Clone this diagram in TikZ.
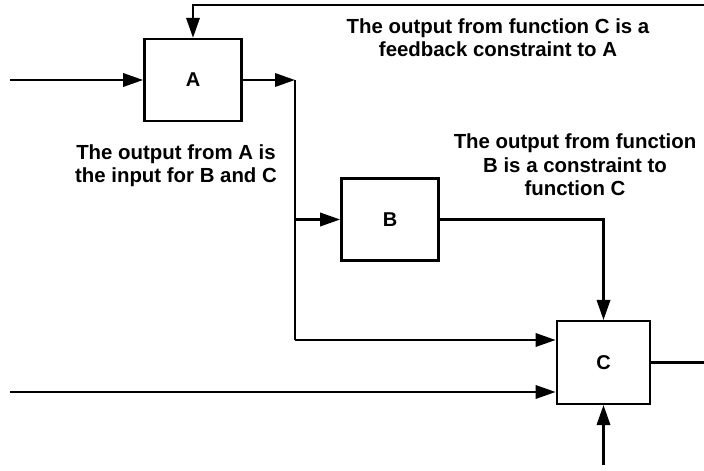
\documentclass[tikz,border=0pt]{standalone}
\usepackage{fontspec}
\setmainfont{Liberation Sans}
\usetikzlibrary{arrows.meta}

\begin{document}
\begin{tikzpicture}[x=0.75pt,y=-0.75pt,
  fbox/.style={draw,line width=1.8pt,minimum width=73pt,minimum height=61.5pt,font=\bfseries\fontsize{15}{17}\selectfont},
  wire/.style={line width=1.8pt},
  flow/.style={wire,-{Triangle[length=15pt,width=10pt]}},
  note/.style={align=center,inner sep=0pt,font=\bfseries\fontsize{15.3}{17.5}\selectfont}]
\useasboundingbox (0,0) rectangle (704,471);
\node[fbox] (A) at (193,80) {A};
\node[fbox] (B) at (390,219.5) {B};
\node[fbox,minimum width=70pt,minimum height=62pt] (C) at (603.5,362.5) {C};
\coordinate (inA) at (10,80);
\coordinate (split) at (295,80);
\coordinate (join) at (295,340);
\coordinate (fbR) at (704,5);
\coordinate (outC) at (704,362.5);
\coordinate (inC) at (10,392);
\coordinate (ctlC) at (603.5,465);
\draw[flow] (inA) -- (A);
\draw[flow] (A) -- (split);
\draw[wire] (split) -- (join);
\draw[flow] (split |- B) -- (B);
\draw[flow] (join) -- (C.west |- join);
\draw[flow] (inC) -- (C.west |- inC);
\draw[flow] (B) -| (C);
\draw[flow] (ctlC) -- (C);
\draw[wire] (C) -- (outC);
\draw[flow] (fbR) -| (A);
\node[note] (noteA) at (176,166) {The output from A is\\the input for B and C};
\node[note] (noteFb) at (498,38) {The output from function C is a\\feedback constraint to A};
\node[note] (noteB) at (575,165) {The output from function\\B is a constraint to\\function C};
\end{tikzpicture}
\end{document}
